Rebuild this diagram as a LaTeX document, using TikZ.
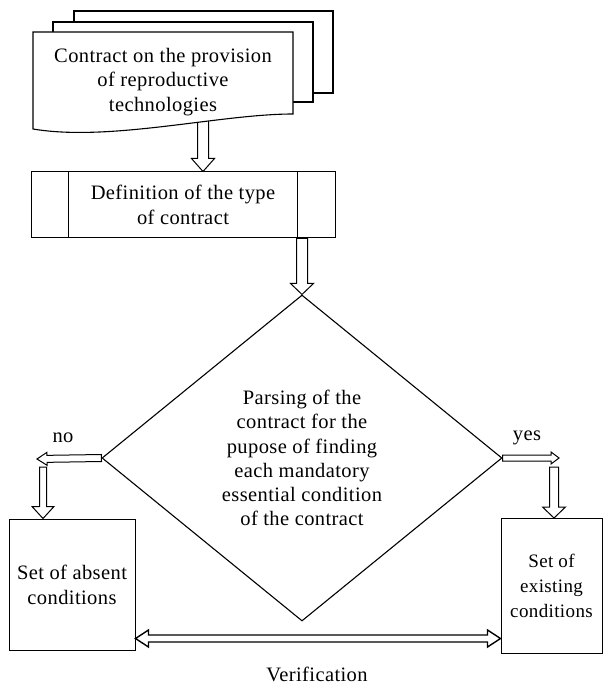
\documentclass[tikz,border=0pt]{standalone}
\usepackage{fontspec}
\setmainfont{Liberation Serif}[LetterSpace=2]
\usetikzlibrary{calc,shapes.geometric}
\tikzset{
  box/.style={draw, line width=1pt, inner sep=0pt, align=center, font=\fontsize{20.5}{25}\selectfont},
  txt/.style={align=center, inner sep=0pt, font=\fontsize{20.5}{24.5}\selectfont},
  blockar/.style={draw, fill=white, line width=1pt, line join=miter},
  sheet/.style={draw, fill=white, line width=1.1pt},
}
% #1 start, #2 tip, #3 shaft half width, #4 head half width, #5 head length
\newcommand\blockarrow[5]{%
  \coordinate (ba-c) at ($(#2)!#5!(#1)$);
  \draw[blockar] ($(#1)!#3!90:(#2)$) -- ($(ba-c)!#3!90:(#2)$) -- ($(ba-c)!#4!90:(#2)$) -- (#2)
    -- ($(ba-c)!#4!-90:(#2)$) -- ($(ba-c)!#3!-90:(#2)$) -- ($(#1)!#3!-90:(#2)$) -- cycle;
}
\newcommand\blockdarrow[5]{%
  \coordinate (bd-a) at ($(#1)!#5!(#2)$);
  \coordinate (bd-b) at ($(#2)!#5!(#1)$);
  \draw[blockar, line width=1.4pt] (#1) -- ($(bd-a)!#4!90:(#2)$) -- ($(bd-a)!#3!90:(#2)$) -- ($(bd-b)!#3!90:(#2)$)
    -- ($(bd-b)!#4!90:(#2)$) -- (#2) -- ($(bd-b)!#4!-90:(#2)$) -- ($(bd-b)!#3!-90:(#2)$)
    -- ($(bd-a)!#3!-90:(#2)$) -- ($(bd-a)!#4!-90:(#2)$) -- cycle;
}
\begin{document}
\begin{tikzpicture}[x=1pt, y=-1pt]
\useasboundingbox (0,0) rectangle (603,684);

% definition box
\node[box, minimum width=304pt, minimum height=66pt] (def) at (183,205) {Definition of the type\\of contract};
\draw[line width=1pt] ([xshift=38pt]def.north west) -- ([xshift=38pt]def.south west);
\draw[line width=1pt] ([xshift=-38pt]def.north east) -- ([xshift=-38pt]def.south east);

% arrow doc -> def (drawn below the sheets)
\coordinate (d1) at (203,118);
\coordinate (d1t) at (d1 |- def.north);
\blockarrow{d1}{d1t}{5.5pt}{11.5pt}{13pt}

% stacked document sheets
\draw[sheet] (74,11) rectangle (333,93);
\draw[sheet] (53,22) rectangle (313,102);
\draw[sheet] (33,32) -- (293,32) -- (293,114) .. controls (220,114) and (110,142) .. (33,129) -- cycle;
\node[txt] (doc) at (163,82) {Contract on the provision\\of reproductive\\technologies};

% decision diamond
\node[draw, diamond, line width=1.1pt, minimum width=400pt, minimum height=326pt, inner sep=0pt,
      align=center, font=\fontsize{20.5}{24.2}\selectfont] (dia) at (302,458)
  {Parsing of the\\contract for the\\pupose of finding\\each mandatory\\essential condition\\of the contract};

\coordinate (d2) at (dia.north |- def.south);
\blockarrow{d2}{dia.north}{5.5pt}{11.5pt}{11pt}

% result boxes
\node[box, minimum width=126pt, minimum height=131pt] (abs) at (72,584.5) {Set of absent\\conditions};
\node[box, minimum width=101pt, minimum height=135pt, font=\fontsize{19}{25}\selectfont] (ex) at (551.5,586) {Set of\\existing\\conditions};

% no branch
\coordinate (noend) at (37,459);
\blockarrow{dia.west}{noend}{3.5pt}{6.5pt}{10pt}
\coordinate (nod) at (43,467);
\coordinate (nodt) at (nod |- abs.north);
\blockarrow{nod}{nodt}{3.5pt}{11pt}{12pt}
\node[txt] (nolbl) at (63,438) {no};

% yes branch
\coordinate (yesend) at (559,458);
\blockarrow{dia.east}{yesend}{3pt}{6pt}{8pt}
\coordinate (yesd) at (554,467);
\coordinate (yesdt) at (yesd |- ex.north);
\blockarrow{yesd}{yesdt}{4.5pt}{11.5pt}{11pt}
\node[txt] (yeslbl) at (527,438) {yes};

% verification
\coordinate (v1) at (abs.east |- 0,638.5);
\coordinate (v2) at (ex.west |- 0,638.5);
\blockdarrow{v1}{v2}{3.5pt}{8.5pt}{13pt}
\node[txt] (ver) at (317,674) {Verification};
\end{tikzpicture}
\end{document}
